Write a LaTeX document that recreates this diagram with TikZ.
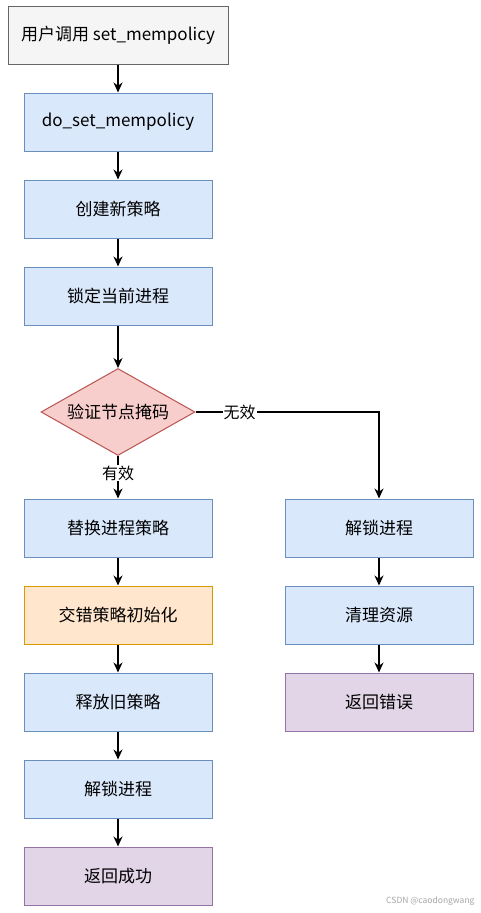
\documentclass[tikz,border=0pt]{standalone}
\usepackage{fontspec}
\setmainfont{Noto Sans CJK SC}
\usetikzlibrary{shapes.geometric,arrows.meta}
\definecolor{greyfill}{HTML}{F5F5F5}
\definecolor{greyline}{HTML}{666666}
\definecolor{bluefill}{HTML}{DAE8FC}
\definecolor{blueline}{HTML}{6C8EBF}
\definecolor{redfill}{HTML}{F8CECC}
\definecolor{redline}{HTML}{B85450}
\definecolor{orangefill}{HTML}{FFE6CC}
\definecolor{orangeline}{HTML}{D79B00}
\definecolor{purplefill}{HTML}{E1D5E7}
\definecolor{purpleline}{HTML}{9673A6}
\tikzset{
  stepbox/.style={rectangle, draw=blueline, fill=bluefill, line width=1pt,
    minimum width=188, minimum height=58, inner sep=0pt},
  startbox/.style={stepbox, draw=greyline, fill=greyfill, minimum width=220},
  initbox/.style={stepbox, draw=orangeline, fill=orangefill},
  endbox/.style={stepbox, draw=purpleline, fill=purplefill},
  checkbox/.style={diamond, draw=redline, fill=redfill, line width=1pt,
    minimum width=154, minimum height=87, inner sep=0pt, aspect=1.77},
  flow/.style={-{Stealth[length=10pt,width=9pt]}, line width=1.2pt},
  edgelabel/.style={fill=white, inner sep=1pt, font=\fontsize{16}{18}\selectfont}
}
\begin{document}
\begin{tikzpicture}[x=1pt, y=-1pt, font=\fontsize{17}{20}\selectfont]
\useasboundingbox (0,0) rectangle (481,913);
% main path
\node[startbox] (call) at (118,35) {用户调用 set\_mempolicy};
\node[stepbox] (doset) at (118,122) {do\_set\_mempolicy};
\node[stepbox] (newpol) at (118,209) {创建新策略};
\node[stepbox] (lock) at (118,296) {锁定当前进程};
\node[checkbox] (check) at (118,412) {验证节点掩码};
\node[stepbox] (replace) at (118,528) {替换进程策略};
\node[initbox] (interleave) at (118,615) {交错策略初始化};
\node[stepbox] (release) at (118,702) {释放旧策略};
\node[stepbox] (unlockok) at (118,789) {解锁进程};
\node[endbox] (success) at (118,876) {返回成功};
% error path
\node[stepbox] (unlockerr) at (379,528) {解锁进程};
\node[stepbox] (cleanup) at (379,615) {清理资源};
\node[endbox] (failure) at (379,702) {返回错误};
\node[font=\fontsize{8.5}{10}\selectfont, text=black!35, anchor=east] (mark) at (478,901) {CSDN @caodongwang};

\draw[flow] (call) -- (doset);
\draw[flow] (doset) -- (newpol);
\draw[flow] (newpol) -- (lock);
\draw[flow] (lock) -- (check);
\draw[flow] (check) -- node[edgelabel, pos=0.4] {有效} (replace);
\draw[flow] (check.east) -| node[edgelabel, pos=0.12] {无效} (unlockerr.north);
\draw[flow] (replace) -- (interleave);
\draw[flow] (interleave) -- (release);
\draw[flow] (release) -- (unlockok);
\draw[flow] (unlockok) -- (success);
\draw[flow] (unlockerr) -- (cleanup);
\draw[flow] (cleanup) -- (failure);
\end{tikzpicture}
\end{document}
